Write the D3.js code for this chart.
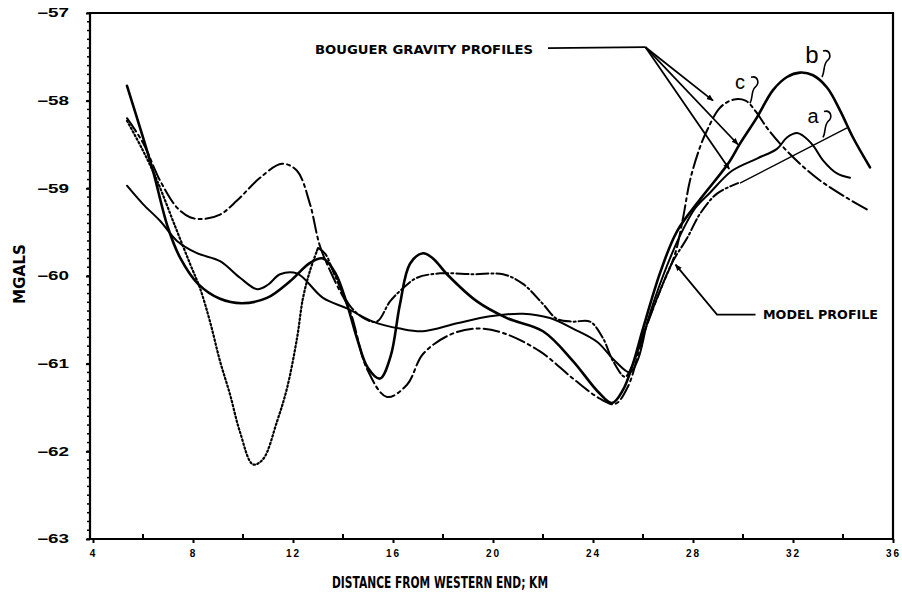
<!DOCTYPE html>
<html>
<head>
<meta charset="utf-8">
<script src="https://cdn.jsdelivr.net/npm/d3@7"></script>
<style>
  body { margin: 0; background: #fff; }
  svg { display: block; font-family: 'DejaVu Sans', sans-serif; }
</style>
</head>
<body>
<div id="chart"></div>
<script>
// [distance km, anomaly mgal]
const profileA = [[5.36,-58.97],[6,-59.18],[6.68,-59.37],[7.36,-59.6],[8.16,-59.74],[9.08,-59.83],[9.88,-60.02],[10.56,-60.15],[11.0,-60.1],[11.48,-59.98],[12.16,-59.97],[13.2,-60.25],[14.16,-60.37],[15.2,-60.52],[16.28,-60.6],[17.2,-60.63],[18.56,-60.54],[19.88,-60.46],[21.2,-60.43],[22.28,-60.48],[23.2,-60.6],[24.16,-60.75],[24.88,-60.97],[25.48,-61.1],[25.8,-60.95],[26.2,-60.5],[26.8,-60.0],[27.48,-59.54],[28.08,-59.23],[28.68,-59.05],[29.56,-58.8],[30.56,-58.66],[31.36,-58.55],[31.76,-58.42],[32.16,-58.37],[32.4,-58.4],[32.8,-58.51],[33.2,-58.68],[33.76,-58.83],[34.28,-58.88]];

const profileB = [[5.36,-57.83],[6,-58.42],[6.4,-58.8],[7,-59.45],[7.5,-59.8],[8.2,-60.09],[9.08,-60.26],[9.96,-60.31],[10.96,-60.25],[11.88,-60.06],[12.68,-59.85],[13.2,-59.8],[13.7,-59.97],[14.16,-60.32],[14.56,-60.71],[15.0,-61.05],[15.48,-61.17],[15.9,-60.92],[16.28,-60.32],[16.68,-59.86],[17.2,-59.74],[17.6,-59.8],[18.16,-59.98],[19.36,-60.29],[20.56,-60.48],[22,-60.63],[23.2,-60.97],[24.2,-61.32],[24.76,-61.45],[25.2,-61.3],[25.6,-61.0],[26.0,-60.6],[26.7,-59.95],[27.36,-59.49],[28.3,-59.12],[29.4,-58.72],[29.88,-58.49],[30.56,-58.19],[31.2,-57.88],[31.76,-57.73],[32.28,-57.68],[32.8,-57.71],[33.36,-57.85],[33.88,-58.11],[34.4,-58.42],[35.08,-58.76]];

const profileC = [[5.36,-58.2],[6,-58.48],[6.68,-58.91],[7.36,-59.22],[7.88,-59.33],[8.4,-59.35],[9.08,-59.3],[9.76,-59.14],[10.68,-58.88],[11.56,-58.72],[12.16,-58.8],[12.68,-59.18],[13.08,-59.66],[13.68,-60.06],[14.28,-60.4],[14.96,-61.06],[15.76,-61.38],[16.56,-61.24],[17.2,-60.89],[18.28,-60.67],[19.36,-60.6],[20.4,-60.65],[21.88,-60.86],[23.2,-61.17],[24.28,-61.4],[24.88,-61.46],[25.4,-61.26],[26,-60.69],[26.68,-60.17],[27.28,-59.75],[27.6,-59.34],[27.88,-58.91],[28.28,-58.53],[28.56,-58.34],[29.08,-58.08],[29.6,-57.99],[30.1,-58.0],[30.5,-58.12],[30.96,-58.31],[31.48,-58.49],[32.28,-58.72],[33.08,-58.91],[34.16,-59.11],[35.08,-59.26]];

const modelProfile = [[5.36,-58.23],[6,-58.57],[6.56,-58.91],[7.28,-59.43],[7.88,-59.86],[8.28,-60.14],[8.68,-60.52],[9.08,-60.97],[9.48,-61.35],[9.88,-61.78],[10.4,-62.15],[10.8,-62.09],[11.36,-61.66],[11.76,-61.28],[12.16,-60.71],[12.4,-60.25],[12.68,-59.94],[13,-59.68],[13.3,-59.75],[13.68,-60.0],[14.28,-60.34],[14.88,-60.49],[15.36,-60.52],[15.88,-60.29],[16.4,-60.14],[16.96,-60.02],[17.88,-59.97],[19.2,-59.98],[20.4,-59.98],[21.2,-60.09],[22,-60.32],[22.56,-60.49],[23.2,-60.52],[23.88,-60.52],[24.4,-60.71],[24.8,-60.97],[25.28,-61.15],[25.6,-61.0],[26,-60.67],[26.68,-60.17],[27.2,-59.83],[27.76,-59.57],[28.28,-59.29],[28.96,-59.06],[29.8,-58.94]];

const xTicks = [4, 8, 12, 16, 20, 24, 28, 32, 36];
const xMinorTicks = [6, 10, 14, 18, 22, 26, 30, 34];
const yTicks = [-57, -58, -59, -60, -61, -62, -63];

const width = 902, height = 595;
const margin = { top: 13, right: 9, bottom: 56, left: 93 };

const x = d3.scaleLinear().domain([4, 36]).range([margin.left, width - margin.right]);
const y = d3.scaleLinear().domain([-63, -57]).range([height - margin.bottom, margin.top]);

const svg = d3.select('#chart').append('svg')
  .attr('width', width)
  .attr('height', height);

svg.append('defs').append('marker')
  .attr('id', 'arrow')
  .attr('viewBox', '0 0 10 10')
  .attr('refX', 9).attr('refY', 5)
  .attr('markerWidth', 7).attr('markerHeight', 7)
  .attr('markerUnits', 'userSpaceOnUse')
  .attr('orient', 'auto')
  .append('path').attr('d', 'M0,1L10,5L0,9z').attr('fill', '#000');

const frameL = x(4) - 3, frameB = y(-63), frameT = y(-57), frameR = x(36);

// frame
svg.append('path')
  .attr('d', `M${frameL},${frameT}H${frameR}V${frameB}H${frameL}Z`)
  .attr('fill', 'none').attr('stroke', '#000').attr('stroke-width', 2.2);

// y axis
const yAxis = d3.axisLeft(y).tickValues(yTicks).tickSize(4).tickPadding(17)
  .tickFormat(d => '\u2212' + Math.abs(d));
svg.append('g').attr('class', 'y axis')
  .attr('transform', 'translate(' + frameL + ',0)')
  .call(yAxis)
  .call(g => g.select('.domain').remove())
  .call(g => g.selectAll('line').attr('stroke-width', 2))
  .selectAll('text')
    .attr('font-size', 12).attr('font-weight', 'bold')
    .attr('textLength', 32).attr('lengthAdjust', 'spacingAndGlyphs');

// small ticks every 0.1 mgal
svg.append('g').selectAll('line')
  .data(d3.range(0, 61).map(i => -63 + i * 0.1))
  .enter().append('line')
    .attr('x1', frameL - 3).attr('x2', frameL)
    .attr('y1', d => y(d)).attr('y2', d => y(d))
    .attr('stroke', '#000').attr('stroke-width', 1.5);

// x axis
const xAxis = d3.axisBottom(x).tickValues(xTicks).tickSize(4).tickPadding(7);
svg.append('g').attr('class', 'x axis')
  .attr('transform', 'translate(0,' + frameB + ')')
  .call(xAxis)
  .call(g => g.select('.domain').remove())
  .call(g => g.selectAll('line').attr('stroke-width', 2))
  .selectAll('text')
    .attr('font-size', 10).attr('font-weight', 'bold')
    .attr('letter-spacing', 2);

svg.append('g').selectAll('line')
  .data(xMinorTicks)
  .enter().append('line')
    .attr('x1', d => x(d)).attr('x2', d => x(d))
    .attr('y1', frameB).attr('y2', frameB - 5)
    .attr('stroke', '#000').attr('stroke-width', 2);

// axis titles
svg.append('text')
  .attr('x', 440).attr('y', 588)
  .attr('text-anchor', 'middle')
  .attr('font-size', 15).attr('font-weight', 'bold')
  .attr('textLength', 216).attr('lengthAdjust', 'spacingAndGlyphs')
  .text('DISTANCE FROM WESTERN END; KM');

svg.append('text')
  .attr('transform', 'translate(25,274) rotate(-90)')
  .attr('text-anchor', 'middle')
  .attr('font-size', 15).attr('font-weight', 'bold')
  .attr('textLength', 60).attr('lengthAdjust', 'spacingAndGlyphs')
  .text('MGALS');

// profiles
const line = d3.line()
  .x(d => x(d[0]))
  .y(d => y(d[1]))
  .curve(d3.curveCatmullRom.alpha(0.5));

const curves = svg.append('g').attr('fill', 'none').attr('stroke', '#000')
  .attr('stroke-linecap', 'round');

curves.append('path').datum(modelProfile.filter(d => d[0] <= 13))
  .attr('d', line).attr('stroke-width', 2.2).attr('stroke-dasharray', '1.5,2.5');
curves.append('path').datum(modelProfile.filter(d => d[0] >= 13))
  .attr('d', line).attr('stroke-width', 2).attr('stroke-dasharray', '12,3,2,3');
curves.append('path').datum(profileC)
  .attr('d', line).attr('stroke-width', 2).attr('stroke-dasharray', '16,4,3,4');
curves.append('path').datum(profileA)
  .attr('d', line).attr('stroke-width', 2);
curves.append('path').datum(profileB)
  .attr('d', line).attr('stroke-width', 2.6);

// annotations
const bouguerLabel = [12.88, -57.47];
const bouguerLeader = [[22.2, -57.40], [26.1, -57.39]];
const bouguerFan = [[28.8, -58.0], [29.8, -58.5], [29.45, -58.78]];
const modelLabel = [30.8, -60.49];
const modelLeader = [[30.5, -60.44], [28.96, -60.44], [27.3, -59.87]];
const aLeader = [[34.16, -58.31], [29.88, -58.94]];
const letterLabels = [['a', 32.8, -58.26], ['b', 32.76, -57.57], ['c', 29.88, -57.87]];

const notes = svg.append('g').attr('fill', 'none').attr('stroke', '#000').attr('stroke-width', 1.8);
const px = d => [x(d[0]), y(d[1])];

notes.append('path').attr('d', d3.line()(bouguerLeader.map(px)));
bouguerFan.forEach(end => {
  notes.append('path')
    .attr('d', d3.line()([px(bouguerLeader[1]), px(end)]))
    .attr('marker-end', 'url(#arrow)');
});
notes.append('path').attr('d', d3.line()(modelLeader.map(px))).attr('marker-end', 'url(#arrow)');
notes.append('path').attr('d', d3.line()(aLeader.map(px))).attr('stroke-width', 1.4);

svg.append('text')
  .attr('x', x(bouguerLabel[0])).attr('y', y(bouguerLabel[1]))
  .attr('font-size', 13).attr('font-weight', 'bold')
  .attr('textLength', 218).attr('lengthAdjust', 'spacingAndGlyphs')
  .text('BOUGUER GRAVITY PROFILES');

svg.append('text')
  .attr('x', x(modelLabel[0])).attr('y', y(modelLabel[1]))
  .attr('font-size', 12).attr('font-weight', 'bold')
  .attr('textLength', 115).attr('lengthAdjust', 'spacingAndGlyphs')
  .text('MODEL PROFILE');

letterLabels.forEach(([t, lx, ly]) => {
  const ax = x(lx), ay = y(ly);
  svg.append('text')
    .attr('x', ax).attr('y', ay)
    .attr('text-anchor', 'middle')
    .attr('font-size', t === 'b' ? 24 : 20)
    .attr('font-family', "'Liberation Sans', sans-serif")
    .text(t);
  // hand-drawn hook next to each letter
  const p = d3.path();
  p.moveTo(ax + 11, ay - 12);
  p.bezierCurveTo(ax + 18, ay - 14, ax + 20, ay - 6, ax + 15, ay - 2);
  p.bezierCurveTo(ax + 11, ay + 2, ax + 13, ay + 9, ax + 10, ay + 14);
  notes.append('path').attr('d', p.toString()).attr('stroke-width', 1.6);
});
</script>
</body>
</html>
